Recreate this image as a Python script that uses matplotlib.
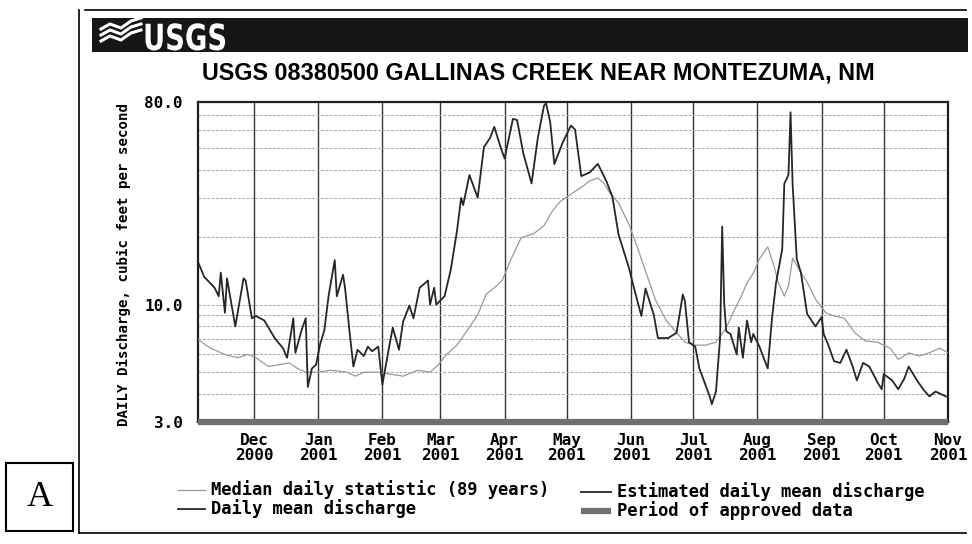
import matplotlib
matplotlib.use("Agg")
import matplotlib.pyplot as plt
import matplotlib.transforms as mtransforms
import pandas as pd
from matplotlib.lines import Line2D
from matplotlib.patches import Rectangle, PathPatch
from matplotlib.textpath import TextPath
from matplotlib.font_manager import FontProperties
from matplotlib.ticker import FixedLocator, NullFormatter

W, H = 972, 544

# %% Data (cfs)

mean_dates = [
    "2000-11-04", "2000-11-07", "2000-11-12", "2000-11-14", "2000-11-15", "2000-11-17",
    "2000-11-18", "2000-11-22", "2000-11-26", "2000-11-27", "2000-11-30",
    "2000-12-02", "2000-12-06", "2000-12-11", "2000-12-15", "2000-12-17", "2000-12-20",
    "2000-12-21", "2000-12-24", "2000-12-26", "2000-12-27", "2000-12-29", "2000-12-31",
    "2001-01-02", "2001-01-04", "2001-01-06", "2001-01-09", "2001-01-10", "2001-01-13",
    "2001-01-14", "2001-01-16", "2001-01-18", "2001-01-20", "2001-01-23", "2001-01-25",
    "2001-01-27", "2001-01-30",
    "2001-02-01", "2001-02-04", "2001-02-06", "2001-02-09", "2001-02-11", "2001-02-14",
    "2001-02-16", "2001-02-19", "2001-02-23", "2001-02-24", "2001-02-26", "2001-02-27",
    "2001-03-03", "2001-03-06", "2001-03-09", "2001-03-11", "2001-03-12", "2001-03-15",
    "2001-03-19", "2001-03-22", "2001-03-25", "2001-03-27", "2001-03-30",
    "2001-04-01", "2001-04-05", "2001-04-07", "2001-04-10", "2001-04-14", "2001-04-17",
    "2001-04-20", "2001-04-21", "2001-04-23", "2001-04-25", "2001-04-29",
    "2001-05-03", "2001-05-05", "2001-05-08", "2001-05-12", "2001-05-16", "2001-05-20",
    "2001-05-23", "2001-05-26", "2001-05-31",
    "2001-06-02", "2001-06-06", "2001-06-08", "2001-06-12", "2001-06-14", "2001-06-19",
    "2001-06-23", "2001-06-26", "2001-06-27", "2001-06-29",
    "2001-07-02", "2001-07-04", "2001-07-09", "2001-07-10", "2001-07-12", "2001-07-14",
    "2001-07-15", "2001-07-16", "2001-07-17", "2001-07-19", "2001-07-22", "2001-07-23",
    "2001-07-25", "2001-07-27", "2001-07-29", "2001-07-30",
    "2001-08-02", "2001-08-04", "2001-08-06", "2001-08-08", "2001-08-10", "2001-08-13",
    "2001-08-14", "2001-08-16", "2001-08-17", "2001-08-18", "2001-08-20", "2001-08-22",
    "2001-08-25", "2001-08-29",
    "2001-09-01", "2001-09-02", "2001-09-04", "2001-09-07", "2001-09-10", "2001-09-13",
    "2001-09-16", "2001-09-18", "2001-09-21", "2001-09-24", "2001-09-28", "2001-09-30",
    "2001-10-01", "2001-10-05", "2001-10-08", "2001-10-11", "2001-10-13", "2001-10-17",
    "2001-10-20", "2001-10-23", "2001-10-26", "2001-10-31",
]
mean_cfs = [
    15.5, 13.3, 11.9, 10.9, 13.9, 9.2, 13.1, 8.0, 13.1, 12.8, 8.7,
    8.9, 8.5, 7.1, 6.4, 5.8, 8.7, 6.1, 7.7, 8.7, 4.3, 5.2, 5.4,
    6.7, 7.7, 10.9, 15.8, 10.9, 13.6, 11.8, 7.8, 5.3, 6.3, 5.9, 6.5, 6.2, 6.5,
    4.4, 6.3, 7.9, 6.3, 8.4, 9.9, 8.7, 11.9, 12.8, 10.0, 11.9, 10.0,
    10.9, 14.3, 21.3, 29.9, 27.8, 37.8, 30.0, 50.3, 55.4, 62.0, 50.4,
    44.8, 67.3, 66.5, 47.3, 34.7, 55.2, 77.0, 79.0, 65.0, 42.3, 52.7,
    62.8, 60.3, 37.4, 38.8, 42.4, 35.7, 30.3, 20.5, 14.6,
    12.3, 8.9, 11.8, 9.0, 7.1, 7.1, 7.5, 11.1, 10.4, 6.8,
    6.5, 5.2, 3.9, 3.6, 4.1, 7.1, 22.3, 10.0, 7.6, 7.4, 6.0, 7.9, 5.8, 8.5, 6.8, 7.4,
    6.5, 5.8, 5.2, 8.6, 12.5, 17.7, 34.6, 37.9, 72.0, 34.4, 16.0, 13.9, 9.1, 8.0,
    8.8, 7.4, 6.7, 5.6, 5.5, 6.3, 5.3, 4.6, 5.5, 5.3, 4.5, 4.2,
    4.9, 4.6, 4.2, 4.7, 5.3, 4.6, 4.2, 3.9, 4.1, 3.9,
]

median_dates = [
    "2000-11-04", "2000-11-10", "2000-11-17", "2000-11-23", "2000-11-28",
    "2000-12-02", "2000-12-08", "2000-12-13", "2000-12-18", "2000-12-22", "2000-12-26",
    "2001-01-01", "2001-01-07", "2001-01-15", "2001-01-19", "2001-01-23", "2001-01-30",
    "2001-02-05", "2001-02-11", "2001-02-18", "2001-02-24", "2001-02-28",
    "2001-03-04", "2001-03-09", "2001-03-14", "2001-03-19", "2001-03-23", "2001-03-28",
    "2001-03-31",
    "2001-04-04", "2001-04-09", "2001-04-15", "2001-04-20", "2001-04-24", "2001-04-28",
    "2001-05-03", "2001-05-08", "2001-05-12", "2001-05-16", "2001-05-19", "2001-05-22",
    "2001-05-26", "2001-05-31",
    "2001-06-04", "2001-06-08", "2001-06-13", "2001-06-18", "2001-06-23", "2001-06-27",
    "2001-07-02", "2001-07-07", "2001-07-12", "2001-07-17", "2001-07-20", "2001-07-24",
    "2001-07-27", "2001-07-30",
    "2001-08-02", "2001-08-04", "2001-08-06", "2001-08-09", "2001-08-11", "2001-08-14",
    "2001-08-16", "2001-08-18", "2001-08-22", "2001-08-25", "2001-08-29",
    "2001-09-03", "2001-09-07", "2001-09-12", "2001-09-17", "2001-09-22", "2001-09-28",
    "2001-10-04", "2001-10-08", "2001-10-13", "2001-10-18", "2001-10-23", "2001-10-28",
    "2001-11-01",
]
median_cfs = [
    7.0, 6.4, 6.0, 5.8, 6.0,
    5.8, 5.3, 5.4, 5.5, 5.2, 5.0,
    5.0, 5.1, 5.0, 4.8, 5.0, 5.0,
    4.9, 4.8, 5.1, 5.0, 5.4,
    6.0, 6.6, 7.7, 9.0, 11.1, 12.1, 12.9,
    15.9, 19.9, 20.7, 22.5, 26.1, 28.9,
    31.1, 33.3, 35.6, 36.7, 34.7, 31.2, 28.4, 22.8,
    18.1, 14.1, 10.4, 8.5, 7.5, 6.8,
    6.6, 6.6, 6.8, 7.9, 9.1, 10.8, 12.5, 13.8,
    16.0, 17.0, 18.1, 14.9, 12.6, 10.9, 12.1, 16.1, 13.9, 12.6, 10.6,
    9.2, 8.9, 8.7, 7.5, 6.9, 6.8,
    6.4, 5.7, 6.1, 5.9, 6.1, 6.4,
    6.1,
]

approved_period = ["2000-11-04", "2001-11-01"]

month_starts = ["2000-12-01", "2001-01-01", "2001-02-01", "2001-03-01", "2001-04-01",
                "2001-05-01", "2001-06-01", "2001-07-01", "2001-08-01", "2001-09-01",
                "2001-10-01", "2001-11-01"]
month_labels = ["Dec\n2000", "Jan\n2001", "Feb\n2001", "Mar\n2001", "Apr\n2001",
                "May\n2001", "Jun\n2001", "Jul\n2001", "Aug\n2001", "Sep\n2001",
                "Oct\n2001", "Nov\n2001"]

ytick_values = [3.0, 10.0, 80.0]
ytick_labels = ["3.0", "10.0", "80.0"]
grid_values = [4, 5, 6, 7, 8, 9, 20, 30, 40, 50, 60, 70]

title = "USGS 08380500 GALLINAS CREEK NEAR MONTEZUMA, NM"
ylabel = "DAILY Discharge, cubic feet per second"
legend_entries = [
    "Median daily statistic (89 years)",
    "Daily mean discharge",
    "Estimated daily mean discharge",
    "Period of approved data",
]


# %% Helpers


def fx(px):
    return px / W


def fy(py):
    return 1 - py / H


mono = "DejaVu Sans Mono"
median_color = "#999999"
mean_color = "#262626"
approved_color = "#707070"

# %% Figure

fig = plt.figure(figsize=(W / 100, H / 100), dpi=100)
fig.patch.set_facecolor("white")

# outer frame
fig.add_artist(Line2D([fx(85), fx(966)], [fy(10), fy(10)], color="black", lw=1.2))
fig.add_artist(Line2D([fx(79), fx(79)], [fy(10), fy(533)], color="black", lw=1.2))
fig.add_artist(Line2D([fx(79), fx(966)], [fy(533), fy(533)], color="black", lw=1.2))

# banner
fig.add_artist(Rectangle((fx(92), fy(52)), fx(968) - fx(92), (52 - 18) / H,
                         facecolor="#161616", edgecolor="none"))
for dy in (0, 6, 12):
    fig.add_artist(Line2D([fx(101), fx(110), fx(121), fx(131), fx(141)],
                          [fy(41 - dy), fy(36 - dy), fy(40 - dy), fy(33 - dy), fy(30 - dy)],
                          color="white", lw=2.2))
logo_path = TextPath((0, 0), "USGS", size=36,
                     prop=FontProperties(family="DejaVu Sans", weight="bold"))
logo_tf = mtransforms.Affine2D().scale(0.76, 1.0).translate(143, H - 50)
fig.add_artist(PathPatch(logo_path, transform=logo_tf, facecolor="white", edgecolor="none"))

fig.text(fx(538), fy(73), title, ha="center", va="center", fontsize=16.8,
         fontweight="bold", family="Liberation Sans")

# %% Hydrograph

ax = fig.add_axes([fx(198), fy(422), (948 - 198) / W, (422 - 102) / H])
ax.set_yscale("log")
ax.set_ylim(ytick_values[0], ytick_values[-1])
ax.set_xlim(pd.Timestamp(approved_period[0]), pd.Timestamp(approved_period[1]))

ax.plot(pd.to_datetime(median_dates), median_cfs, color=median_color, lw=0.9, zorder=3)
ax.plot(pd.to_datetime(mean_dates), mean_cfs, color=mean_color, lw=1.3, zorder=4)

# approved-data bar along the bottom
ax.plot(pd.to_datetime(approved_period), [ytick_values[0]] * 2, color=approved_color, lw=4.5,
        solid_capstyle="butt", clip_on=False, zorder=6)

ax.set_yticks(ytick_values)
ax.set_yticklabels(ytick_labels)
ax.yaxis.set_minor_locator(FixedLocator(grid_values))
ax.yaxis.set_minor_formatter(NullFormatter())
ax.set_xticks(pd.to_datetime(month_starts))
ax.set_xticklabels(month_labels, linespacing=0.95)
ax.tick_params(which="both", length=0)
ax.tick_params(axis="y", pad=11)
ax.tick_params(axis="x", pad=8)
for lab in ax.get_xticklabels() + ax.get_yticklabels():
    lab.set_family(mono)
    lab.set_fontweight("bold")
    lab.set_fontsize(11.5)

ax.grid(which="minor", axis="y", color="#a8a8a8", lw=0.7, linestyle=(0, (3, 1.5)))
ax.grid(which="major", axis="y", color="#a8a8a8", lw=0.7, linestyle=(0, (3, 1.5)))
ax.grid(which="major", axis="x", color="#333333", lw=1.0, linestyle="-")
ax.set_axisbelow(True)

for side, spine in ax.spines.items():
    spine.set_color("#1e1e1e")
    spine.set_linewidth(1.6)

fig.text(fx(124), fy(265), ylabel, rotation=90, ha="center", va="center",
         family=mono, fontweight="bold", fontsize=10.2)

# %% Legend

legend_font = dict(family=mono, fontweight="bold", fontsize=12.3, va="center")
fig.add_artist(Line2D([fx(178), fx(205)], [fy(490), fy(490)], color=median_color, lw=0.9))
fig.text(fx(211), fy(490), legend_entries[0], **legend_font)
fig.add_artist(Line2D([fx(178), fx(205)], [fy(509), fy(509)], color=mean_color, lw=1.3))
fig.text(fx(211), fy(509), legend_entries[1], **legend_font)
fig.add_artist(Line2D([fx(581), fx(611)], [fy(492), fy(492)], color=mean_color, lw=1.3))
fig.text(fx(617), fy(492), legend_entries[2], **legend_font)
fig.add_artist(Line2D([fx(581), fx(611)], [fy(511), fy(511)], color=approved_color, lw=4.5,
                      solid_capstyle="butt"))
fig.text(fx(617), fy(511), legend_entries[3], **legend_font)

# panel tag
fig.add_artist(Rectangle((fx(6), fy(531)), fx(73) - fx(6), (531 - 463) / H,
                         facecolor="none", edgecolor="black", lw=1.5))
fig.text(fx(40), fy(498), "A", ha="center", va="center", fontsize=26,
         family="Liberation Serif")

fig.savefig("out.png", dpi=100)
